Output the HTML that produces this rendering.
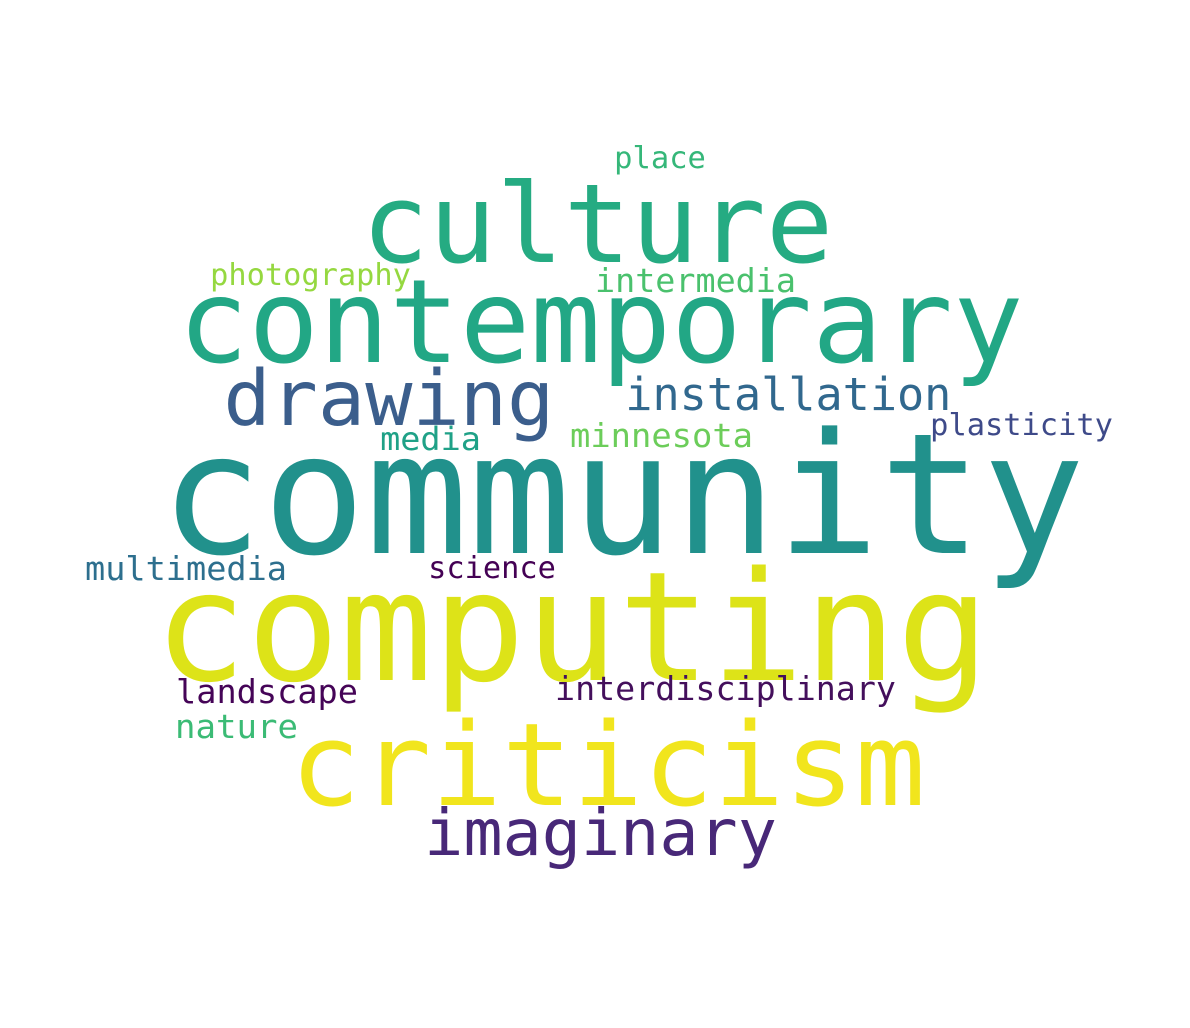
<!DOCTYPE html>
<html><head><meta charset="utf-8">
<style>html,body{margin:0;padding:0;background:#fff;}svg{display:block;}</style></head>
<body>
<svg id="cloud" width="1190" height="1028" xmlns="http://www.w3.org/2000/svg">
<rect width="1190" height="1028" fill="#fff"/>
</svg>
<script>
const words = ["community","computing","criticism","contemporary","culture","drawing","imaginary","installation","intermedia","photography","place","media","minnesota","plasticity","multimedia","science","landscape","interdisciplinary","nature"];
const weights = [168,152,115,116,110,77,64,45,33,30,30,32,33,30,33,30,33,33,33];
const colors = ["#21918c","#dde318","#f1e51d","#22a785","#25ab82","#3b5e8c","#482878","#31688e","#4ac16d","#95d840","#35b779","#1fa187","#6ccd5a","#3e4a89","#2d6f8e","#440154","#450457","#440f5c","#3bbb75"];
const xs = [170,163,297,185,368,228,428,628,597,212,616,382,572,932,87,430,178,557,177];
const ys = [553,680,805,362,262,425,855,410,292,285,168,450,447,435,580,578,703,700,738];
const rights = [1080,985,922,1020,830,552,775,950,795,410,705,480,752,1112,286,555,357,895,297];
const svg = document.getElementById('cloud');
words.forEach((w,i)=>{
  const fs = weights[i];
  const x0 = xs[i] - 0.06*fs;
  const x1 = rights[i] + 0.03*fs;
  const t = document.createElementNS('http://www.w3.org/2000/svg','text');
  
  
  t.setAttribute('x', x0);
  t.setAttribute('y', ys[i]);
  t.setAttribute('font-family', '"DejaVu Sans Mono","Liberation Mono",monospace');
  t.setAttribute('font-size', fs);
  t.setAttribute('fill', colors[i]);
  t.setAttribute('textLength', x1 - x0);
  t.setAttribute('lengthAdjust', 'spacingAndGlyphs');
  t.textContent = w;
  svg.appendChild(t);
});
</script>
</body></html>
